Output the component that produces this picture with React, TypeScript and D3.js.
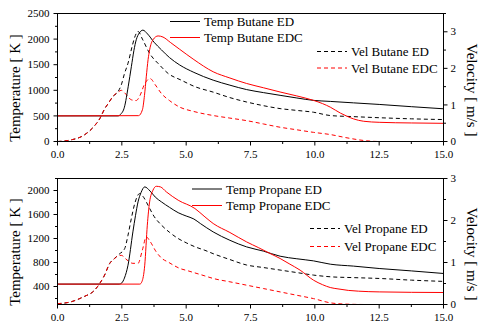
import React from "react";
import * as d3 from "d3";

// ---------- data ----------
const xTicks = [0, 2.5, 5, 7.5, 10, 12.5, 15];

// Butane (top panel)
const butTempED_t = [0, 2.35, 2.45, 2.6, 2.75, 2.87, 2.97, 3.06, 3.18, 3.32, 3.5, 3.75, 4.04, 4.35, 4.75, 5.3, 6.05, 6.7, 7.35, 8.0, 8.65, 9.3, 9.95, 10.6, 11.5, 12.5, 13.75, 15];
const butTempED_y = [500, 500, 530, 670, 1080, 1460, 1780, 1987, 2120, 2175, 2100, 1940, 1790, 1640, 1494, 1350, 1198, 1100, 1014, 955, 902, 850, 803, 783, 755, 724, 680, 639];

const butTempEDC_t = [0, 3.15, 3.3, 3.38, 3.45, 3.52, 3.58, 3.71, 3.91, 4.1, 4.4, 4.75, 5.3, 6.05, 6.7, 7.35, 8.0, 8.65, 9.3, 9.95, 10.3, 10.6, 11.0, 11.25, 11.5, 11.9, 12.5, 13.75, 15];
const butTempEDC_y = [500, 505, 620, 900, 1263, 1600, 1790, 1987, 2062, 2040, 1930, 1800, 1600, 1362, 1240, 1133, 1050, 967, 890, 803, 740, 671, 553, 493, 442, 395, 375, 362, 355];

const butVelED_t = [0, 0.5, 1.0, 1.44, 1.64, 1.83, 2.0, 2.15, 2.35, 2.48, 2.6, 2.74, 2.9, 3.0, 3.13, 3.3, 3.58, 3.97, 4.3, 4.8, 5.34, 6.05, 6.7, 7.35, 8.0, 8.65, 9.3, 9.95, 10.6, 11.5, 12.5, 13.75, 15];
const butVelED_y = [0, 0.04, 0.16, 0.43, 0.62, 0.89, 1.07, 1.23, 1.36, 1.55, 1.85, 2.14, 2.6, 2.85, 3.01, 2.8, 2.41, 2.09, 1.86, 1.68, 1.5, 1.35, 1.2, 1.08, 0.98, 0.9, 0.85, 0.8, 0.71, 0.68, 0.65, 0.62, 0.6];

const butVelEDC_t = [0, 0.5, 1.0, 1.44, 1.64, 1.83, 2.0, 2.15, 2.35, 2.48, 2.65, 2.87, 3.06, 3.2, 3.39, 3.6, 3.8, 4.04, 4.35, 4.75, 5.3, 6.05, 6.7, 7.35, 8.0, 8.65, 9.3, 9.95, 10.6, 11.25, 12.0, 12.5, 15];
const butVelEDC_y = [0, 0.04, 0.16, 0.43, 0.62, 0.89, 1.07, 1.23, 1.35, 1.4, 1.3, 1.14, 1.12, 1.25, 1.58, 1.72, 1.55, 1.31, 1.12, 0.94, 0.82, 0.71, 0.64, 0.57, 0.48, 0.39, 0.32, 0.25, 0.19, 0.1, 0.02, 0, 0];

// Propane (bottom panel)
const proTempED_t = [0, 2.4, 2.5, 2.6, 2.74, 2.93, 3.03, 3.13, 3.25, 3.39, 3.6, 3.8, 4.04, 4.35, 4.69, 5.0, 5.3, 5.55, 6.05, 6.7, 7.35, 8.0, 8.65, 9.3, 9.95, 10.6, 11.5, 12.5, 13.75, 15];
const proTempED_y = [440, 440, 460, 540, 755, 1310, 1580, 1810, 1970, 2060, 1990, 1890, 1810, 1720, 1630, 1575, 1525, 1450, 1310, 1170, 1060, 990, 905, 862, 827, 772, 740, 700, 660, 617];

const proTempEDC_t = [0, 3.2, 3.28, 3.39, 3.49, 3.58, 3.71, 3.84, 4.0, 4.23, 4.69, 5.34, 5.73, 6.05, 6.7, 7.35, 7.8, 8.26, 8.65, 9.0, 9.43, 9.95, 10.3, 10.6, 10.9, 11.3, 11.7, 12.5, 15];
const proTempEDC_y = [440, 440, 480, 755, 1422, 1810, 2005, 2070, 2060, 1977, 1838, 1700, 1560, 1450, 1300, 1143, 1050, 950, 867, 780, 672, 505, 430, 383, 360, 335, 322, 310, 300];

const proVelED_t = [0, 0.5, 1.0, 1.44, 1.64, 1.83, 2.03, 2.22, 2.4, 2.61, 2.74, 2.87, 3.0, 3.19, 3.35, 3.52, 3.75, 4.04, 4.35, 4.69, 5.0, 5.4, 5.73, 6.05, 6.7, 7.35, 8.0, 8.65, 9.3, 9.95, 10.6, 11.5, 12.5, 13.75, 15];
const proVelED_y = [0.02, 0.06, 0.18, 0.34, 0.5, 0.7, 0.98, 1.1, 1.2, 1.33, 1.65, 2.05, 2.4, 2.64, 2.55, 2.36, 2.1, 1.89, 1.72, 1.57, 1.47, 1.36, 1.29, 1.21, 1.07, 0.94, 0.88, 0.82, 0.76, 0.7, 0.66, 0.64, 0.62, 0.58, 0.55];

const proVelEDC_t = [0, 0.5, 1.0, 1.44, 1.64, 1.83, 2.03, 2.15, 2.36, 2.48, 2.7, 2.93, 3.13, 3.3, 3.45, 3.6, 3.84, 4.05, 4.3, 4.75, 5.08, 5.73, 6.05, 6.7, 7.35, 8.0, 8.65, 9.3, 9.95, 10.6, 11.2, 12.0, 15];
const proVelEDC_y = [0.02, 0.06, 0.18, 0.34, 0.5, 0.7, 0.98, 1.05, 1.16, 1.17, 1.06, 0.98, 0.98, 1.3, 1.61, 1.5, 1.25, 1.1, 1.01, 0.86, 0.8, 0.68, 0.62, 0.54, 0.46, 0.38, 0.3, 0.22, 0.14, 0.04, 0.01, 0, 0];

const FONT = "'Liberation Serif', 'Times New Roman', serif";

type Series = { t: number[]; y: number[]; color: string; dashed: boolean; axis: "T" | "V"; label: string };

interface PanelProps {
  top: number;
  bottom: number;
  tDomain: [number, number];
  tTicks: number[];
  tMajorStep: number;
  vDomain: [number, number];
  vTicks: number[];
  series: Series[];
  legendTemp: { x: number; y1: number; y2: number };
  legendVel: { x: number; y1: number; y2: number };
  leftTitleY: number;
  rightTitleY: number;
}

const L = 57.5;
const R = 443.5;

function Panel(p: PanelProps) {
  const x = d3.scaleLinear().domain([0, 15]).range([L, R]);
  const yT = d3.scaleLinear().domain(p.tDomain).range([p.bottom, p.top]);
  const yV = d3.scaleLinear().domain(p.vDomain).range([p.bottom, p.top]);
  const xMinor = d3.range(0, 15.001, 1.25);
  const vMinor = d3.range(p.vDomain[0], p.vDomain[1] + 0.001, 0.5);

  return (
    <g>
      {p.series.map((s, i) => {
        const ys = s.axis === "T" ? yT : yV;
        const pts: [number, number][] = s.t.map((t, k) => [t, s.y[k]]);
        const line = d3
          .line<[number, number]>()
          .x((d) => x(d[0]))
          .y((d) => ys(d[1]))
          .curve(d3.curveMonotoneX);
        return (
          <path
            key={i}
            d={line(pts) || ""}
            fill="none"
            stroke={s.color}
            strokeWidth={1}
            strokeDasharray={s.dashed ? "4,3" : undefined}
          />
        );
      })}
      {/* frame */}
      <rect x={L} y={p.top} width={R - L} height={p.bottom - p.top} fill="none" stroke="#000" strokeWidth={1} />
      {/* x ticks */}
      {xMinor.map((t, i) => {
        const major = Math.abs(t / 2.5 - Math.round(t / 2.5)) < 1e-6;
        return <line key={i} x1={x(t)} x2={x(t)} y1={p.bottom} y2={p.bottom + (major ? 4 : 2.5)} stroke="#000" />;
      })}
      {xTicks.map((t, i) => (
        <text key={i} x={x(t)} y={p.bottom + 16.5} textAnchor="middle" fontFamily={FONT} fontSize={11} fill="#000">
          {t.toFixed(1)}
        </text>
      ))}
      {/* left ticks */}
      {p.tTicks.map((v, i) => {
        const major = Math.abs(v % p.tMajorStep) < 1e-6;
        return (
          <g key={i}>
            <line x1={L} x2={L - (major ? 4 : 2.5)} y1={yT(v)} y2={yT(v)} stroke="#000" />
            {major && (
              <text x={L - 8} y={yT(v) + 3.6} textAnchor="end" fontFamily={FONT} fontSize={11} fill="#000">
                {v}
              </text>
            )}
          </g>
        );
      })}
      {/* right ticks */}
      {vMinor.map((v, i) => {
        const major = Math.abs(v - Math.round(v)) < 1e-6;
        return (
          <g key={i}>
            <line x1={R} x2={R + (major ? 4 : 2.5)} y1={yV(v)} y2={yV(v)} stroke="#000" />
            {major && (
              <text x={R + 7} y={yV(v) + 3.6} textAnchor="start" fontFamily={FONT} fontSize={11} fill="#000">
                {v}
              </text>
            )}
          </g>
        );
      })}
      {/* axis titles */}
      <text
        transform={`translate(20,${p.leftTitleY}) rotate(-90)`}
        textAnchor="middle"
        fontFamily={FONT}
        fontSize={15}
        fill="#000"
      >
        Temperature [ K ]
      </text>
      <text
        transform={`translate(467,${p.rightTitleY}) rotate(90)`}
        textAnchor="middle"
        fontFamily={FONT}
        fontSize={15}
        fill="#000"
      >
        Velocity [ m/s ]
      </text>
      {/* legends */}
      {p.series.map((s, i) => {
        const lg = s.axis === "T" ? p.legendTemp : p.legendVel;
        const ly = s.color === "#000" ? lg.y1 : lg.y2;
        return (
          <g key={"lg" + i}>
            <line
              x1={lg.x}
              x2={lg.x + 30}
              y1={ly}
              y2={ly}
              stroke={s.color}
              strokeWidth={1}
              strokeDasharray={s.dashed ? "4,3" : undefined}
            />
            <text x={lg.x + 34} y={ly + 4.5} fontFamily={FONT} fontSize={13} fill="#000">
              {s.label}
            </text>
          </g>
        );
      })}
    </g>
  );
}

export default function App() {
  const topSeries: Series[] = [
    { t: butVelED_t, y: butVelED_y, color: "#000", dashed: true, axis: "V", label: "Vel Butane ED" },
    { t: butVelEDC_t, y: butVelEDC_y, color: "#ff0000", dashed: true, axis: "V", label: "Vel Butane EDC" },
    { t: butTempED_t, y: butTempED_y, color: "#000", dashed: false, axis: "T", label: "Temp Butane ED" },
    { t: butTempEDC_t, y: butTempEDC_y, color: "#ff0000", dashed: false, axis: "T", label: "Temp Butane EDC" },
  ];
  const botSeries: Series[] = [
    { t: proVelED_t, y: proVelED_y, color: "#000", dashed: true, axis: "V", label: "Vel Propane ED" },
    { t: proVelEDC_t, y: proVelEDC_y, color: "#ff0000", dashed: true, axis: "V", label: "Vel Propane EDC" },
    { t: proTempED_t, y: proTempED_y, color: "#000", dashed: false, axis: "T", label: "Temp Propane ED" },
    { t: proTempEDC_t, y: proTempEDC_y, color: "#ff0000", dashed: false, axis: "T", label: "Temp Propane EDC" },
  ];
  return (
    <svg width={489} height={330} style={{ position: "absolute", left: 0, top: 0, background: "#fff" }}>
      <rect width={489} height={330} fill="#fff" />
      <Panel
        top={13.5}
        bottom={141.5}
        tDomain={[0, 2500]}
        tTicks={d3.range(0, 2501, 250)}
        tMajorStep={500}
        vDomain={[0, 3.5]}
        vTicks={[0, 1, 2, 3]}
        series={topSeries}
        legendTemp={{ x: 170, y1: 21.5, y2: 37.5 }}
        legendVel={{ x: 317, y1: 51.5, y2: 68 }}
        leftTitleY={88}
        rightTitleY={90}
      />
      <Panel
        top={178.5}
        bottom={304.5}
        tDomain={[100, 2200]}
        tTicks={d3.range(200, 2201, 200)}
        tMajorStep={400}
        vDomain={[0, 3]}
        vTicks={[0, 1, 2, 3]}
        series={botSeries}
        legendTemp={{ x: 192, y1: 189, y2: 205.5 }}
        legendVel={{ x: 310, y1: 228.5, y2: 246.5 }}
        leftTitleY={252}
        rightTitleY={254}
      />
    </svg>
  );
}
